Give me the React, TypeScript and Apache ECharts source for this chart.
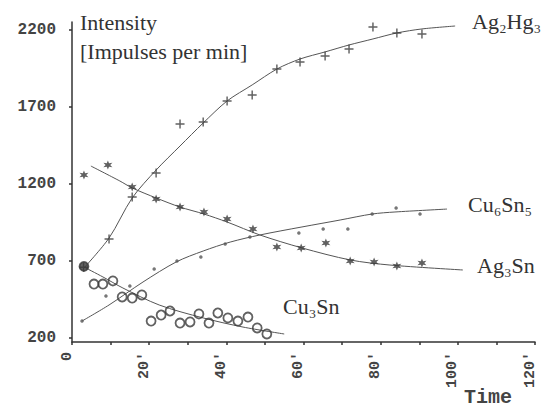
import React, { useEffect, useRef } from "react";
import * as echarts from "echarts";

// ---- data ----
const ag2hg3Time = [3, 9.6, 15.6, 21.8, 28.0, 34.0, 40.2, 46.7, 53.1, 59.1, 65.6, 71.8, 78.0, 84.2, 90.7];
const ag2hg3Value = [660, 843, 1115, 1271, 1589, 1602, 1738, 1777, 1945, 1991, 2030, 2075, 2218, 2179, 2172];
const ag2hg3CurveTime = [3.1, 9.6, 15.6, 21.8, 28.0, 34.0, 40.2, 46.7, 53.1, 59.1, 65.6, 71.8, 78.0, 84.2, 90.7, 99.3];
const ag2hg3CurveValue = [655, 849, 1109, 1290, 1446, 1595, 1738, 1842, 1945, 2010, 2056, 2101, 2140, 2179, 2205, 2224];

const ag3snTime = [3.1, 9.3, 15.6, 21.8, 28.0, 34.2, 40.2, 46.9, 53.1, 59.4, 65.8, 72.1, 78.3, 84.2, 90.7];
const ag3snValue = [1258, 1323, 1180, 1102, 1050, 1018, 973, 908, 791, 785, 817, 700, 694, 668, 687];
const ag3snCurveTime = [4.9, 12.4, 15.6, 21.8, 28.0, 34.2, 40.2, 48.7, 59.6, 72.1, 82.4, 101.3];
const ag3snCurveValue = [1316, 1219, 1174, 1109, 1050, 1005, 953, 869, 785, 707, 674, 642];

const cu6sn5Time = [2.6, 8.8, 15.0, 21.3, 27.2, 33.4, 39.7, 46.1, 58.8, 65.1, 71.5, 77.8, 84.0, 90.2];
const cu6sn5Value = [311, 473, 538, 648, 700, 726, 811, 856, 882, 908, 908, 1005, 1044, 1005];
const cu6sn5CurveTime = [2.6, 9.6, 18.4, 27.0, 34.0, 41.0, 48.7, 59.6, 69.5, 77.8, 83.7, 97.2];
const cu6sn5CurveValue = [311, 415, 564, 694, 765, 823, 869, 921, 966, 1005, 1018, 1037];

const cu3snTime = [3.1, 5.7, 8.0, 10.6, 13.0, 15.6, 18.1, 20.5, 23.1, 25.4, 28.0, 30.6, 32.9, 35.5, 37.8, 40.4, 43.0, 45.6, 48.0, 50.5];
const cu3snValue = [665, 551, 551, 571, 467, 460, 480, 311, 350, 376, 298, 305, 357, 298, 363, 331, 311, 337, 266, 227];
const cu3snCurveTime = [3.1, 8.0, 13.2, 22.6, 34.0, 44.3, 55.0];
const cu3snCurveValue = [661, 597, 525, 415, 331, 272, 227];

const yTickValues = [200, 700, 1200, 1700, 2200];
const xTickValues = [0, 10, 20, 30, 40, 50, 60, 70, 80, 90, 100, 110, 120];
const xLabelValues = [0, 20, 40, 60, 80, 100, 120];

const seriesNames = ["Ag\u2082Hg\u2083", "Cu\u2086Sn\u2085", "Ag\u2083Sn", "Cu\u2083Sn"];

const zip = (t: number[], v: number[]) => t.map((x, i) => [x, v[i]]);

const PLUS = "path://M4.2,0H5.8V4.2H10V5.8H5.8V10H4.2V5.8H0V4.2H4.2Z";
const STAR =
  "path://M5,0L6.1,3.09L9.33,2.5L7.2,5L9.33,7.5L6.1,6.91L5,10L3.9,6.91L0.67,7.5L2.8,5L0.67,2.5L3.9,3.09Z";

const INK = "#3a3a3a";
const LINE = "#555";
const MONO = "'Liberation Mono', 'DejaVu Sans Mono', monospace";
const SERIF = "'Liberation Serif', 'Times New Roman', 'DejaVu Serif', serif";

const serifText = (text: string, left: number, top: number) => ({
  type: "text",
  left,
  top,
  style: { text, fontFamily: SERIF, fontSize: 22, fill: "#333" },
});

export default function App() {
  const ref = useRef<HTMLDivElement>(null);
  useEffect(() => {
    if (!ref.current) return;
    const chart = echarts.init(ref.current, undefined, { renderer: "svg" });
    const curve = (t: number[], v: number[]) => ({
      type: "line",
      data: zip(t, v),
      smooth: 0.3,
      showSymbol: false,
      symbol: "none",
      lineStyle: { color: LINE, width: 1 },
      silent: true,
      z: 2,
    });
    const cu3snData = zip(cu3snTime, cu3snValue).map((d, i) =>
      i === 0
        ? { value: d, symbolSize: 9, itemStyle: { color: INK, borderColor: INK } }
        : d
    );
    chart.setOption({
      animation: false,
      backgroundColor: "#fff",
      grid: { left: 72, right: 9, top: 22, bottom: 69, containLabel: false, outerBoundsMode: "none" },
      xAxis: {
        type: "value",
        min: 0,
        max: 120,
        interval: 10,
        splitLine: { show: false },
        axisLine: { lineStyle: { color: "#333", width: 1.5 } },
        axisTick: { show: true, length: 3, lineStyle: { color: "#333", width: 1.5 }, customValues: xTickValues },
        axisLabel: {
          customValues: xLabelValues,
          rotate: 90,
          margin: 10,
          verticalAlign: "bottom",
          lineHeight: 10,
          fontFamily: MONO,
          fontWeight: "bold",
          fontSize: 15,
          color: "#444",
          formatter: (v: number) => (v === 0 ? "0" : v + "'"),
        },
      },
      yAxis: {
        type: "value",
        min: 175,
        max: 2250,
        splitLine: { show: false },
        axisLine: { show: true, lineStyle: { color: "#333", width: 1.5 } },
        axisTick: { show: true, length: 3, lineStyle: { color: "#333", width: 1.5 }, customValues: yTickValues },
        axisLabel: {
          customValues: yTickValues,
          margin: 16,
          fontFamily: MONO,
          fontWeight: "bold",
          fontSize: 16,
          color: "#444",
          formatter: (v: number) => String(v),
        },
      },
      series: [
        curve(ag2hg3CurveTime, ag2hg3CurveValue),
        curve(ag3snCurveTime, ag3snCurveValue),
        curve(cu6sn5CurveTime, cu6sn5CurveValue),
        curve(cu3snCurveTime, cu3snCurveValue),
        {
          type: "scatter",
          name: seriesNames[0],
          data: zip(ag2hg3Time, ag2hg3Value),
          symbol: PLUS,
          symbolSize: 9,
          itemStyle: { color: INK },
          z: 3,
        },
        {
          type: "scatter",
          name: seriesNames[2],
          data: zip(ag3snTime, ag3snValue),
          symbol: STAR,
          symbolSize: 9,
          itemStyle: { color: INK },
          z: 3,
        },
        {
          type: "scatter",
          name: seriesNames[1],
          data: zip(cu6sn5Time, cu6sn5Value),
          symbol: "circle",
          symbolSize: 3.5,
          itemStyle: { color: "#555" },
          z: 3,
        },
        {
          type: "scatter",
          name: seriesNames[3],
          data: cu3snData,
          symbol: "circle",
          symbolSize: 9,
          itemStyle: { color: "rgba(255,255,255,0)", borderColor: INK, borderWidth: 1.8 },
          z: 3,
        },
      ],
      graphic: [
        serifText("Intensity", 80, 11),
        serifText("[Impulses per min]", 80, 40),
        serifText(seriesNames[0], 472, 10),
        serifText(seriesNames[1], 468, 193),
        serifText(seriesNames[2], 477, 254),
        serifText(seriesNames[3], 283, 295),
        {
          type: "text",
          left: 464,
          top: 387,
          style: { text: "Time", fontFamily: MONO, fontWeight: "bold", fontSize: 20, fill: "#444" },
        },
      ],
    });
    return () => chart.dispose();
  }, []);
  return <div ref={ref} style={{ width: 544, height: 411, position: "absolute", left: 0, top: 0 }} />;
}
